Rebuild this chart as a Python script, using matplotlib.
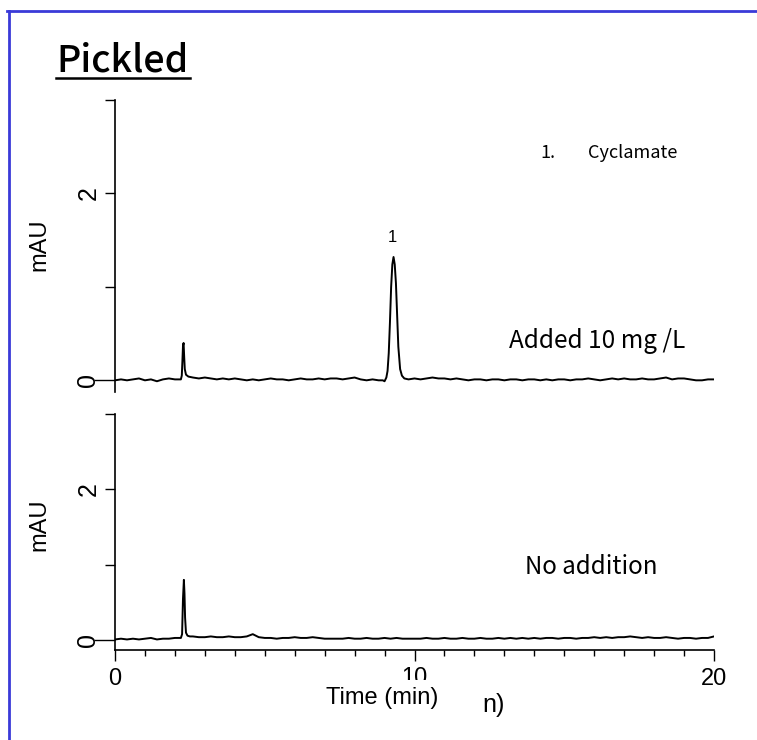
import numpy as np
import matplotlib.pyplot as plt
from matplotlib.lines import Line2D
from matplotlib.transforms import Bbox, blended_transform_factory

# chromatogram (time in min, signal in mAU)
time_added = [0.0, 0.2, 0.4, 0.6, 0.8, 1.0, 1.2, 1.4, 1.6, 1.8, 2.0, 2.2,
              2.23, 2.25, 2.27, 2.29, 2.31, 2.33, 2.37, 2.45, 2.6, 2.8,
              3.0, 3.2, 3.4, 3.6, 3.8, 4.0, 4.2, 4.4, 4.6, 4.8, 5.0, 5.2, 5.4, 5.6, 5.8,
              6.0, 6.2, 6.4, 6.6, 6.8, 7.0, 7.2, 7.4, 7.6, 7.8, 8.0, 8.2, 8.4, 8.6, 8.8,
              8.94, 9.0, 9.06, 9.1, 9.14, 9.18, 9.22, 9.26, 9.3, 9.34, 9.38, 9.42, 9.46,
              9.52, 9.58, 9.66, 9.8,
              10.0, 10.2, 10.4, 10.6, 10.8, 11.0, 11.2, 11.4, 11.6, 11.8, 12.0, 12.2, 12.4,
              12.6, 12.8, 13.0, 13.2, 13.4, 13.6, 13.8, 14.0, 14.2, 14.4, 14.6, 14.8, 15.0,
              15.2, 15.4, 15.6, 15.8, 16.0, 16.2, 16.4, 16.6, 16.8, 17.0, 17.2, 17.4, 17.6,
              17.8, 18.0, 18.2, 18.4, 18.6, 18.8, 19.0, 19.2, 19.4, 19.6, 19.8, 20.0]
signal_added = [0.00, 0.01, 0.00, 0.01, 0.02, 0.00, 0.01, -0.01, 0.01, 0.02, 0.01, 0.01,
                0.05, 0.20, 0.37, 0.40, 0.25, 0.12, 0.06, 0.04, 0.03, 0.02,
                0.03, 0.02, 0.01, 0.02, 0.01, 0.02, 0.01, 0.00, 0.01, 0.00, 0.01, 0.02, 0.01, 0.01, 0.00,
                0.01, 0.02, 0.01, 0.01, 0.02, 0.01, 0.02, 0.02, 0.01, 0.02, 0.03, 0.01, 0.00, 0.01, 0.00,
                0.00, -0.01, 0.03, 0.10, 0.29, 0.62, 1.00, 1.24, 1.32, 1.24, 1.04, 0.70, 0.36,
                0.12, 0.05, 0.02, 0.01,
                0.02, 0.01, 0.02, 0.03, 0.02, 0.02, 0.01, 0.02, 0.01, 0.00, 0.01, 0.01, 0.00,
                0.01, 0.01, 0.00, 0.01, 0.01, 0.00, 0.01, 0.01, 0.00, 0.01, 0.00, 0.01, 0.01,
                0.00, 0.01, 0.01, 0.02, 0.01, 0.00, 0.01, 0.02, 0.01, 0.02, 0.01, 0.01, 0.02,
                0.01, 0.01, 0.02, 0.03, 0.01, 0.02, 0.02, 0.01, 0.00, 0.00, 0.01, 0.01]

time_blank = [0.0, 0.2, 0.4, 0.6, 0.8, 1.0, 1.2, 1.4, 1.6, 1.8, 2.0, 2.2,
              2.24, 2.27, 2.30, 2.32, 2.34, 2.37, 2.42, 2.5, 2.6, 2.8,
              3.0, 3.2, 3.4, 3.6, 3.8, 4.0, 4.2, 4.4, 4.6, 4.8, 5.0, 5.2, 5.4, 5.6, 5.8,
              6.0, 6.2, 6.4, 6.6, 6.8, 7.0, 7.2, 7.4, 7.6, 7.8, 8.0, 8.2, 8.4, 8.6, 8.8,
              9.0, 9.2, 9.4, 9.6, 9.8,
              10.0, 10.2, 10.4, 10.6, 10.8, 11.0, 11.2, 11.4, 11.6, 11.8, 12.0, 12.2, 12.4,
              12.6, 12.8, 13.0, 13.2, 13.4, 13.6, 13.8, 14.0, 14.2, 14.4, 14.6, 14.8, 15.0,
              15.2, 15.4, 15.6, 15.8, 16.0, 16.2, 16.4, 16.6, 16.8, 17.0, 17.2, 17.4, 17.6,
              17.8, 18.0, 18.2, 18.4, 18.6, 18.8, 19.0, 19.2, 19.4, 19.6, 19.8, 20.0]
signal_blank = [0.01, 0.02, 0.01, 0.02, 0.01, 0.02, 0.03, 0.01, 0.02, 0.02, 0.03, 0.03,
                0.08, 0.55, 0.80, 0.62, 0.30, 0.10, 0.06, 0.05, 0.05, 0.04,
                0.04, 0.05, 0.04, 0.04, 0.05, 0.04, 0.04, 0.05, 0.08, 0.04, 0.03, 0.03, 0.02, 0.03, 0.03,
                0.04, 0.03, 0.03, 0.04, 0.03, 0.02, 0.02, 0.02, 0.02, 0.03, 0.02, 0.02, 0.03, 0.02, 0.02,
                0.03, 0.02, 0.03, 0.02, 0.02,
                0.02, 0.02, 0.03, 0.02, 0.02, 0.03, 0.02, 0.02, 0.03, 0.02, 0.02, 0.03, 0.02,
                0.02, 0.03, 0.02, 0.03, 0.02, 0.03, 0.02, 0.03, 0.02, 0.03, 0.03, 0.02, 0.03,
                0.03, 0.02, 0.03, 0.03, 0.04, 0.03, 0.04, 0.03, 0.04, 0.04, 0.05, 0.04, 0.03,
                0.04, 0.03, 0.03, 0.04, 0.03, 0.02, 0.03, 0.03, 0.02, 0.03, 0.03, 0.05]

peak_time = 9.26
peak_label = "1"
compound = "Cyclamate"
x_ticks = [0, 10, 20]

W, H = 757, 740
fig = plt.figure(figsize=(W / 100, H / 100), dpi=100)
cjk = ["Noto Sans CJK JP", "DejaVu Sans"]
sans = ["Liberation Sans", "DejaVu Sans"]


def px(x, y):
    return x / W, 1 - y / H


def setup_axis(ax, with_x):
    ax.set_xlim(0, 20)
    ax.set_ylim(-0.125, 3.0)
    for s in ["top", "right"]:
        ax.spines[s].set_visible(False)
    ax.spines["left"].set_linewidth(1.2)
    ax.set_yticks([0, 1, 2, 3])
    ax.set_yticklabels(["0", "", "2", ""])
    ax.tick_params(axis="y", length=7.5, width=1.0, color="black", pad=3,
                   labelrotation=90, labelsize=18)
    for lab in ax.get_yticklabels():
        lab.set_family(sans)
        lab.set_verticalalignment("center")
    t0 = ax.yaxis.get_major_ticks()[0]
    t0.tick1line.set_markersize(15)
    t0.tick1line.set_color("#777777")
    if with_x:
        ax.spines["bottom"].set_linewidth(1.2)
        ax.set_xticks(x_ticks)
        ax.set_xticklabels([str(x_ticks[0]), "", str(x_ticks[2])])
        ax.set_xticks(np.arange(0, 21, 1), minor=True)
        ax.tick_params(axis="x", which="major", length=8, width=1.0, labelsize=17, pad=5)
        ax.tick_params(axis="x", which="minor", length=4.5, width=1.0)
        for lab in ax.get_xticklabels():
            lab.set_family(sans)
    else:
        ax.spines["bottom"].set_visible(False)
        ax.set_xticks([])


ax1 = fig.add_axes([115 / W, 1 - 392 / H, 599 / W, 292 / H])
ax1.plot(time_added, signal_added, color="black", lw=1.4)
setup_axis(ax1, False)
ax1.text(peak_time, 1.45, peak_label, ha="center", va="bottom", fontsize=12, family=sans)

ax2 = fig.add_axes([115 / W, 1 - 650 / H, 599 / W, 236 / H])
ax2.plot(time_blank, signal_blank, color="black", lw=1.4)
setup_axis(ax2, True)
ax2.set_ylim(-0.13, 3.0)

# the middle tick label "10" is cut off at the bottom in the original
mid = ax2.text(x_ticks[1], 1 - 667 / H, str(x_ticks[1]), ha="center", va="top",
               fontsize=17, family=sans,
               transform=blended_transform_factory(ax2.transData, fig.transFigure))
mid.set_clip_box(Bbox([[0, H - 680], [W, H]]))
mid.set_clip_on(True)

fig.text(*px(39, 245), "mAU", rotation=90, ha="center", va="center", fontsize=17, family=sans)
fig.text(*px(39, 525), "mAU", rotation=90, ha="center", va="center", fontsize=17, family=sans)

fig.text(*px(382, 698), "Time (min)", ha="center", va="center", fontsize=17, family=sans)
fig.text(*px(494, 705), "n)", ha="center", va="center", fontsize=18, family=sans)

fig.text(*px(56, 72), "Pickled", ha="left", va="baseline", fontsize=27,
         fontweight="medium", family=cjk)
fig.add_artist(Line2D([56 / W, 190 / W], [1 - 78 / H, 1 - 78 / H], color="black", lw=1.8))

fig.text(*px(540, 153), "1.", ha="left", va="center", fontsize=13, family=cjk)
fig.text(*px(588, 153), compound, ha="left", va="center", fontsize=13, family=cjk)
fig.text(*px(509, 341), "Added 10 mg /L", ha="left", va="center", fontsize=17.5, family=cjk)
fig.text(*px(525, 567), "No addition", ha="left", va="center", fontsize=17.3, family=cjk)

# blue frame of the scanned panel
blue = "#3a3ad8"
fig.add_artist(Line2D([7 / W, 1.0], [1 - 11 / H, 1 - 11 / H], color=blue, lw=2))
fig.add_artist(Line2D([9 / W, 9 / W], [1 - 11 / H, 0.0], color=blue, lw=2))

fig.savefig("out.png", dpi=100)
